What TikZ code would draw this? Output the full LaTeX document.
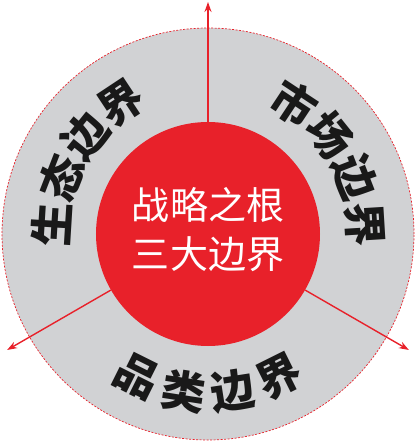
\documentclass[tikz,border=0pt]{standalone}
\usepackage{fontspec}
\newfontfamily\cjk{Noto Sans CJK SC}
\usetikzlibrary{arrows.meta}
\definecolor{ringgray}{HTML}{D1D2D4}
\definecolor{mainred}{HTML}{E8212A}
\tikzset{
  ring/.style={circle, inner sep=0pt, minimum size=412pt, fill=ringgray, draw=mainred, line width=0.7pt, dash pattern=on 2pt off 1.5pt},
  core/.style={circle, inner sep=0pt, minimum size=224pt, fill=mainred},
  arr/.style={draw=mainred, line width=1.4pt, -{Stealth[length=10pt,width=7pt]}},
  ch/.style={inner sep=0pt, font=\cjk\bfseries\fontsize{44}{44}\selectfont, text=black!90},
  centertxt/.style={align=center, text=white, font=\cjk\fontsize{38}{49}\selectfont}
}
\begin{document}
\begin{tikzpicture}[x=1pt,y=1pt]
\useasboundingbox (-208,-207) rectangle (208,234);
\node[ring] (ring) at (0,0) {};
\coordinate (t1) at (90:232);
\coordinate (t2) at (210:232);
\coordinate (t3) at (-30:232);
\node[core] (c) at (0,0) {};
\draw[arr] (c.90) -- (t1);
\draw[arr] (c.210) -- (t2);
\draw[arr] (c.-30) -- (t3);
% left upper
\node[ch, rotate=86.5] (a1) at (176.5:157) {生};
\node[ch, rotate=68.8] (a2) at (158.8:157) {态};
\node[ch, rotate=51.2] (a3) at (141.2:157) {边};
\node[ch, rotate=33.5] (a4) at (123.5:157) {界};
% right upper
\node[ch, rotate=-33.5] (b1) at (56.5:157) {市};
\node[ch, rotate=-51.2] (b2) at (38.8:157) {场};
\node[ch, rotate=-68.8] (b3) at (21.2:157) {边};
\node[ch, rotate=-86.5] (b4) at (3.5:157) {界};
% bottom
\node[ch, rotate=-26.5] (d1) at (243.5:159) {品};
\node[ch, rotate=-8.8] (d2) at (261.2:159) {类};
\node[ch, rotate=8.8] (d3) at (278.8:159) {边};
\node[ch, rotate=26.5] (d4) at (296.5:159) {界};
\node[centertxt] (ct) at (0,4) {战略之根\\三大边界};
\end{tikzpicture}
\end{document}
